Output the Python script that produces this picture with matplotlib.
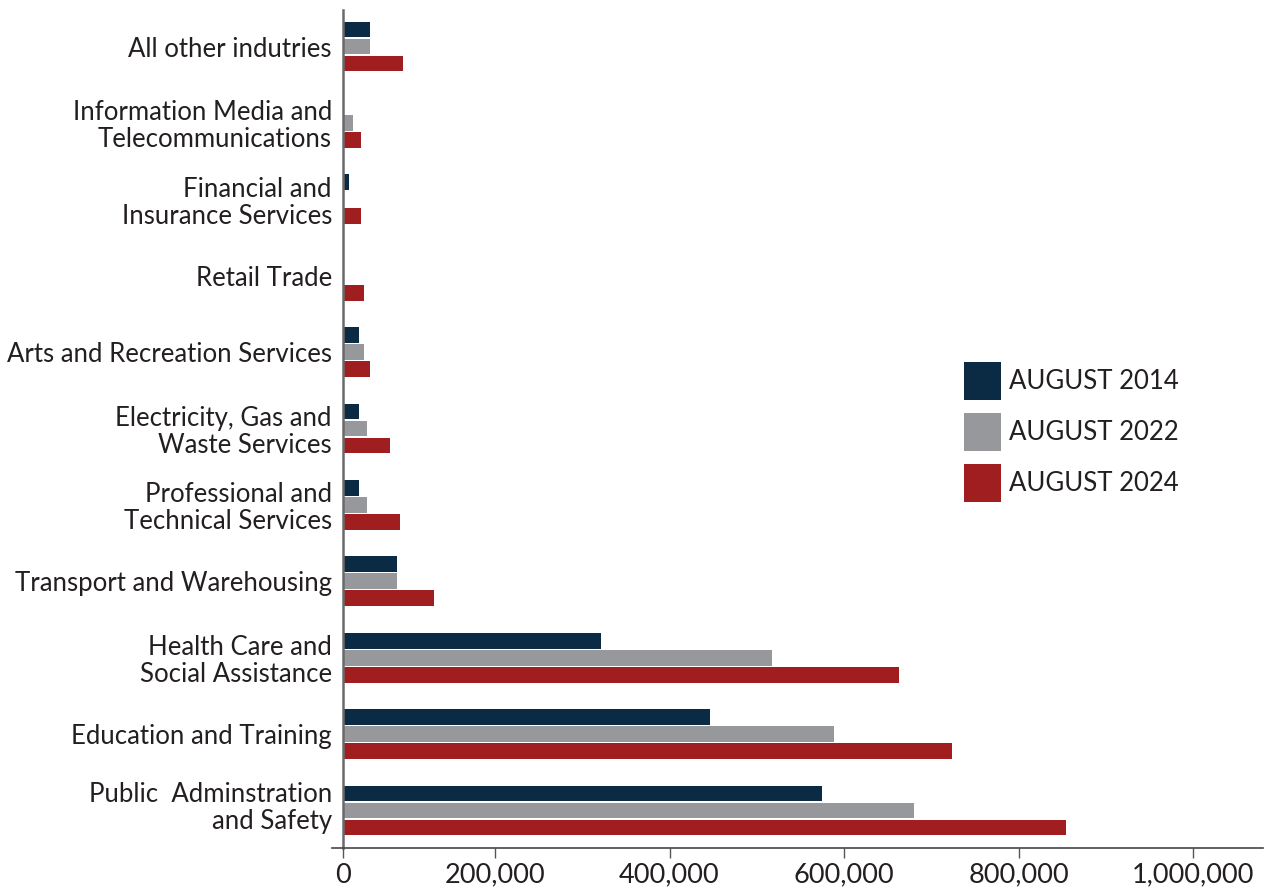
import matplotlib
matplotlib.use("Agg")
import matplotlib.pyplot as plt
import matplotlib.transforms as mtransforms
import numpy as np

categories = [
    "Public  Adminstration\nand Safety",
    "Education and Training",
    "Health Care and\nSocial Assistance",
    "Transport and Warehousing",
    "Professional and\nTechnical Services",
    "Electricity, Gas and\nWaste Services",
    "Arts and Recreation Services",
    "Retail Trade",
    "Financial and\nInsurance Services",
    "Information Media and\nTelecommunications",
    "All other indutries",
]
aug_2014 = [574800, 446400, 321500, 87700, 44100, 44100, 44100, 0, 32700, 0, 56700]
aug_2022 = [680200, 588500, 517400, 87700, 53300, 53300, 49800, 0, 0, 37200, 56700]
aug_2024 = [854400, 723800, 663000, 130100, 91100, 79700, 56700, 49800, 46400, 46400, 94600]
series_labels = ["AUGUST 2014", "AUGUST 2022", "AUGUST 2024"]
colors = ["#0b2a43", "#97989b", "#a01e20"]
xticks = [200000, 400000, 600000, 800000, 1000000]
xtick_labels = ["200,000", "400,000", "600,000", "800,000", "1,000,000"]

plt.rcParams['font.family'] = ['Lato', 'DejaVu Sans']
text_color = "#231f20"

fig = plt.figure(figsize=(12.74, 8.90), dpi=100)
ax = fig.add_axes([343/1274, 1 - 848/890, (1263-343)/1274, (848-10)/890])

y = np.arange(len(categories))
h = 0.205
step = 0.2225
handles = []
for i, (vals, lab, c) in enumerate(zip([aug_2014, aug_2022, aug_2024], series_labels, colors)):
    b = ax.barh(y + (1 - i) * step, vals, height=h, color=c, label=lab)
    handles.append(b)

# axis origin as drawn in the reference: the left spine sits slightly right of value 0
x_left = 25800
x_right = 1080200
ax.set_xlim(x_left, x_right)
ax.set_ylim(-0.491, 10.478)
ax.set_yticks(y)
ax.set_yticklabels(categories, fontsize=18.5, color=text_color, linespacing=1.1)
ax.tick_params(axis='y', length=0, pad=8)
# first label sits a little higher in the reference
lbl0 = ax.get_yticklabels()[0]
lbl0.set_transform(lbl0.get_transform() + mtransforms.ScaledTranslation(0, 4/72, fig.dpi_scale_trans))

ax.set_xticks([x_left] + xticks)
ax.set_xticklabels(["0"] + xtick_labels, fontsize=19.5, color=text_color)
ax.tick_params(axis='x', direction='out', length=7.5, width=1, color="#555555", pad=3)

for s in ["top", "right"]:
    ax.spines[s].set_visible(False)
ax.spines["left"].set_color("#6a6a6a")
ax.spines["left"].set_linewidth(1.8)
ax.spines["bottom"].set_color("#444444")
ax.spines["bottom"].set_linewidth(1.2)
ax.spines["bottom"].set_bounds(13200, x_right)

leg = ax.legend(handles=handles, loc="upper left", bbox_to_anchor=(964/1274, 1 - 362/890),
                bbox_transform=fig.transFigure, borderpad=0, borderaxespad=0,
                frameon=False, fontsize=18.5, handlelength=1.45, handleheight=1.9,
                labelspacing=0.5, handletextpad=0.3, labelcolor=text_color)

fig.savefig("out.png", dpi=100)
